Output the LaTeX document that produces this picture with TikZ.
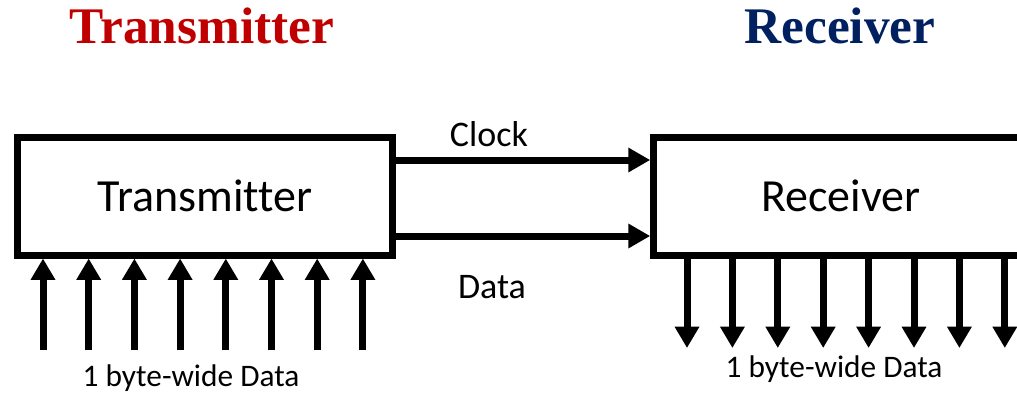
\documentclass[tikz,border=0pt]{standalone}
\usepackage{fontspec}
\setmainfont{Liberation Serif}
\newfontfamily\bodyfont[Ligatures=NoCommon]{Carlito}
\usetikzlibrary{arrows.meta, positioning}
\definecolor{clrTx}{HTML}{C00000}
\definecolor{clrRx}{HTML}{002060}

\begin{document}
\begin{tikzpicture}[
  x=0.75pt, y=-0.75pt,
  box/.style = {
    rectangle,
    draw=black,
    line width=5.25pt,
    minimum width=374.5*0.75pt,
    minimum height=118*0.75pt,
    inner sep=0pt,
    font=\bodyfont\fontsize{34.5}{40}\selectfont
  },
  link/.style = {
    -{Triangle[length=16.5pt, width=17.5pt]},
    line width=5.25pt
  },
  bit/.style = {
    -{Triangle[length=16pt, width=17.5pt]},
    line width=5.25pt
  },
  tag/.style = {
    font=\bodyfont\fontsize{27}{32}\selectfont,
    inner sep=0pt
  },
  bus/.style = {
    font=\bodyfont\fontsize{23.5}{28}\selectfont,
    inner sep=0pt, anchor=base
  },
  title/.style = {
    font=\bfseries\fontsize{38.5}{44}\selectfont,
    inner sep=0pt, anchor=base
  }
]
\useasboundingbox (0,0) rectangle (1017,394);
\clip (0,0) rectangle (1017,394);

% ── titles ───────────────────────────────────────────────────────────────────
\node[title, text=clrTx] (txtitle) at (202,43) {Transmitter};
\node[title, text=clrRx] (rxtitle) at (840,43) {Receiver};

% ── boxes ────────────────────────────────────────────────────────────────────
\node[box] (tx) at (205,196) {Transmitter};
\node[box] (rx) at (841,196) {Receiver};

% ── serial lines ─────────────────────────────────────────────────────────────
\draw[link] ([yshift=27pt]tx.east) -- ([yshift=27pt]rx.west);
\draw[link] ([yshift=-30pt]tx.east) -- ([yshift=-30pt]rx.west);
\node[tag] (clock) at (489,134) {Clock};
\node[tag] (data) at (492,287) {Data};

% ── parallel data in / out ───────────────────────────────────────────────────
\foreach \i in {0,...,7} {
  \coordinate (tin\i) at (43+45.7*\i,350);
  \draw[bit] (tin\i) -- (tin\i |- tx.south);
  \coordinate (rout\i) at (687+45.4*\i,348);
  \draw[bit] (rout\i |- rx.south) -- (rout\i);
}
\node[bus] (txbus) at (191,386) {1 byte-wide Data};
\node[bus] (rxbus) at (834,377) {1 byte-wide Data};

\end{tikzpicture}
\end{document}
